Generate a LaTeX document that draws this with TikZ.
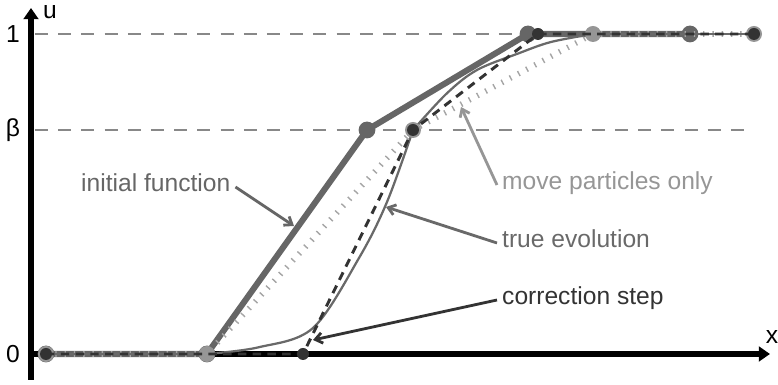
\documentclass[tikz,border=0pt]{standalone}
\usepackage{fontspec}
\setmainfont{Liberation Sans}
\usepackage{tikz}
\usetikzlibrary{arrows.meta,positioning,calc}
\definecolor{initgray}{RGB}{102,102,102}
\definecolor{movegray}{RGB}{150,150,150}
\definecolor{tickgray}{RGB}{165,165,165}
\definecolor{truegray}{RGB}{105,105,105}
\definecolor{corrgray}{RGB}{51,51,51}
\definecolor{gridgray}{RGB}{136,136,136}

\begin{document}
\begin{tikzpicture}[
  font=\fontsize{17.5pt}{21pt}\selectfont,
  axis/.style={line width=3.6pt, -{Triangle[length=8pt,width=10.5pt]}},
  gridline/.style={gridgray, line width=1.4pt, dash pattern=on 9.3pt off 7.2pt},
  initline/.style={initgray, line width=4.3pt, line join=round},
  moveline/.style={tickgray, line width=4pt, dash pattern=on 1pt off 5.6pt},
  trueline/.style={truegray, line width=1.6pt},
  corrline/.style={corrgray, line width=2.1pt, dash pattern=on 6pt off 4.5pt},
  lbl/.style={anchor=west, inner xsep=3.5pt, inner ysep=0pt, text height=0.66em, text depth=0pt},
  lblarrow/.style={-{Straight Barb[length=5pt,width=7.5pt]}, line width=2pt},
]
\useasboundingbox (-0.775,-0.775) rectangle (18.675,8.85);

% points of the three polylines
\coordinate (i1) at (0.375,0);  \coordinate (i2) at (4.4,0);
\coordinate (i3) at (8.4,5.6);  \coordinate (i4) at (12.425,8);
\coordinate (i5) at (16.475,8);
\coordinate (m1) at (0.375,0);  \coordinate (m2) at (4.4,0);
\coordinate (m3) at (9.55,5.6); \coordinate (m4) at (14.05,8);
\coordinate (m5) at (18.075,8);
\coordinate (c1) at (0.375,0);  \coordinate (c2) at (6.8,0);
\coordinate (c3) at (9.55,5.6); \coordinate (c4) at (12.675,8);
\coordinate (c5) at (18.075,8);

% axes and levels
\coordinate (orig) at (0,0);
\draw[gridline] (0.1,8) -- (17.95,8);
\draw[gridline] (0.1,5.6) -- (17.95,5.6);
\draw[axis] (0,-0.65) -- (0,8.65);
\draw[axis] (orig) -- (18.475,0);
\node[inner sep=0pt] (ulab) at (0.475,8.55) {u};
\node[inner sep=0pt] (xlab) at (18.525,0.425) {x};
\node (onelab) at (-0.45,8) {1};
\node (betalab) at (-0.45,5.6) {β};
\node (zerolab) at (-0.45,0) {0};

% initial function
\draw[initline] (i1) -- (i2) -- (i3) -- (i4) -- (i5);
\foreach \p in {i1,i2,i3,i4,i5} \fill[initgray] (\p) circle (0.21);

% move particles only
\draw[moveline] (m1) -- (m2) -- (m3) -- (m4) -- (m5);

% true evolution
\draw[trueline] (i1) -- (m2);
\draw[trueline] plot[smooth, tension=0.55] coordinates
  {(4.4,0) (5.7,0.17) (7.05,0.65) (8.2,2.4) (8.9,3.8) (9.55,5.6)};
\draw[trueline] plot[smooth, tension=0.55] coordinates
  {(9.55,5.6) (10.4,6.52) (11.15,7.1) (12.2,7.52) (13.0,7.8) (14.05,8)};
\draw[trueline] (m4) -- (m5);
\foreach \p in {m1,m2,m3,m4,m5} \fill[movegray] (\p) circle (0.2);

% correction step
\draw[corrline] (c1) -- (c2) -- (c3) -- (c4) -- (c5);
\foreach \p in {c1,c2,c3,c4,c5} \fill[corrgray] (\p) circle (0.15);

% labels
\node[lbl, initgray] (initlbl) at (1.125,4.175) {initial function};
\node[lbl, movegray] (movelbl) at (11.65,4.225) {move particles only};
\node[lbl, truegray] (truelbl) at (11.65,2.775) {true evolution};
\node[lbl, corrgray] (corrlbl) at (11.65,1.35) {correction step};
\coordinate (initTip) at (6.575,3.2);
\coordinate (moveTip) at (10.75,6.175);
\coordinate (trueTip) at (8.875,3.675);
\coordinate (corrTip) at (7.05,0.35);
\draw[lblarrow, initgray] (initlbl.east) -- (initTip);
\draw[lblarrow, movegray] (movelbl.west) -- (moveTip);
\draw[lblarrow, truegray] (truelbl.west) -- (trueTip);
\draw[lblarrow, corrgray] (corrlbl.west) -- (corrTip);
\end{tikzpicture}
\end{document}
